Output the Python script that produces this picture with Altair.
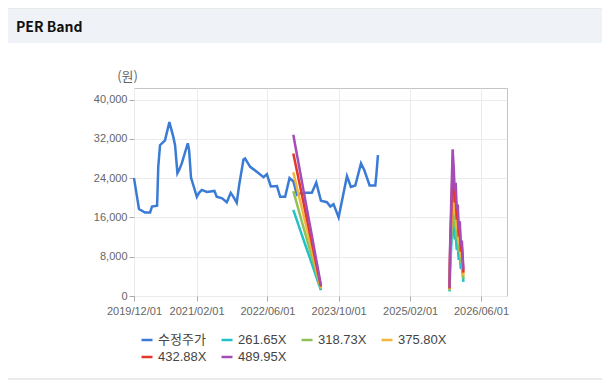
import altair as alt
import pandas as pd

# ---- data ----
price_dates = ["2019-12-01", "2020-01-04", "2020-02-14", "2020-03-20", "2020-04-02", "2020-05-07",
               "2020-05-15", "2020-05-27", "2020-06-30", "2020-07-30", "2020-08-26", "2020-09-07",
               "2020-09-23", "2020-10-04", "2020-10-23", "2020-12-03", "2020-12-12", "2020-12-25",
               "2021-02-03", "2021-02-18", "2021-03-09", "2021-04-12", "2021-06-03", "2021-06-19",
               "2021-07-26", "2021-08-27", "2021-09-23", "2021-10-09", "2021-11-03", "2021-11-19",
               "2021-12-19", "2021-12-30", "2022-01-13", "2022-02-03", "2022-03-20", "2022-05-05",
               "2022-05-28", "2022-06-24", "2022-08-05", "2022-08-27", "2022-09-30", "2022-10-30",
               "2022-11-26", "2022-12-20", "2023-01-11", "2023-02-14", "2023-04-01", "2023-05-01",
               "2023-06-02", "2023-07-13", "2023-08-05", "2023-08-27", "2023-10-01", "2023-11-27",
               "2023-12-24", "2024-01-23", "2024-03-02", "2024-03-25", "2024-04-30", "2024-06-08",
               "2024-06-15", "2024-06-26"]
price_values = [24000, 17700, 17000, 17000, 18200, 18400,
                26300, 30700, 31700, 35400, 32400, 30700,
                25000, 25600, 27000, 31100, 29700, 24100,
                20200, 21000, 21600, 21200, 21400, 20200,
                19900, 19100, 21000, 20300, 19000, 22500,
                27800, 28000, 27300, 26300, 25300, 24200,
                24800, 22300, 22400, 20200, 20200, 24000,
                23300, 20600, 20900, 21000, 21000, 23100,
                19400, 19100, 18200, 18700, 16000, 24400,
                22200, 22500, 27000, 25600, 22500, 22500,
                24600, 28700]

band_dates_1 = ["2022-11-25", "2022-12-23", "2023-01-20", "2023-02-17", "2023-03-17", "2023-04-14",
                "2023-05-12", "2023-06-02"]
band_dates_2 = ["2025-10-29", "2025-11-01", "2025-11-19", "2025-11-26", "2025-12-03", "2025-12-10",
                "2025-12-17", "2025-12-24", "2025-12-31", "2026-01-07", "2026-01-14", "2026-01-21",
                "2026-02-01"]

band_names = ["261.65X", "318.73X", "375.80X", "432.88X", "489.95X"]

band_1 = {
    "261.65X": [17531, 15097, 12664, 10230, 7850, 5416, 2983, 1177],
    "318.73X": [21355, 18391, 15427, 12462, 9562, 6598, 3634, 1434],
    "375.80X": [25179, 21684, 18189, 14694, 11274, 7779, 4284, 1691],
    "432.88X": [29003, 24977, 20951, 16926, 12986, 8961, 4935, 1948],
    "489.95X": [32827, 28270, 23714, 19157, 14699, 10142, 5585, 2205],
}
band_2 = {
    "261.65X": [916, 4971, 15961, 14129, 11513, 12298, 9419, 9943, 7326, 8111, 5495, 6018, 2878],
    "318.73X": [1116, 6056, 19443, 17211, 14024, 14980, 11474, 12112, 8924, 9881, 6693, 7331, 3506],
    "375.80X": [1315, 7140, 22924, 20293, 16535, 17663, 13529, 14280, 10522, 11650, 7892, 8643, 4134],
    "432.88X": [1515, 8225, 26406, 23376, 19047, 20345, 15584, 16449, 12121, 13419, 9090, 9956, 4762],
    "489.95X": [1715, 9309, 29887, 26457, 21558, 23028, 17638, 18618, 13719, 15188, 10289, 11269, 5389],
}

series_order = ["수정주가"] + band_names
series_colors = ["#3a7bd5", "#22c1c8", "#8fc157", "#f5b43c", "#e2372b", "#a44db4"]

x_ticks = [(2019, 12), (2021, 2), (2022, 6), (2023, 10), (2025, 2), (2026, 6)]
y_ticks = [0, 8000, 16000, 24000, 32000, 40000]

# ---- build table ----
rows = []
for d, v in zip(price_dates, price_values):
    rows.append({"date": d, "value": v, "series": "수정주가", "seg": "price"})
for name in band_names:
    for d, v in zip(band_dates_1, band_1[name]):
        rows.append({"date": d, "value": v, "series": name, "seg": name + "_a"})
for name in band_names:
    for d, v in zip(band_dates_2, band_2[name]):
        rows.append({"date": d, "value": v, "series": name, "seg": name + "_b"})
df = pd.DataFrame(rows)

FONT = "Liberation Sans, Noto Sans CJK KR, sans-serif"
KFONT = "Noto Sans CJK KR, sans-serif"

x_scale = alt.Scale(
    type="utc",
    domain=[alt.DateTime(year=2019, month=12, date=1, utc=True),
            alt.DateTime(year=2026, month=11, date=26, utc=True)],
)
x_axis = alt.Axis(
    title=None,
    values=[alt.DateTime(year=y, month=m, date=1, utc=True) for y, m in x_ticks],
    labelExpr="utcFormat(datum.value, '%Y/%m/%d')",
    labelPadding=4, labelOverlap=False, labelFlush=False, labelBound=False,
)
y_scale = alt.Scale(domain=[0, 42350], nice=False)
y_axis = alt.Axis(
    title="(원)", values=y_ticks, format=",d",
    titleAngle=0, titleX=-7, titleY=-12, titleAlign="center", titleBaseline="middle",
    titleFont=KFONT, titleFontSize=13, titleFontWeight="normal", titleColor="#666666",
    labelPadding=2, labelOverlap=False,
)

lines = alt.Chart(df).mark_line(strokeWidth=2.5).encode(
    x=alt.X("date:T", scale=x_scale, axis=x_axis),
    y=alt.Y("value:Q", scale=y_scale, axis=y_axis),
    color=alt.Color(
        "series:N",
        scale=alt.Scale(domain=series_order, range=series_colors),
        legend=alt.Legend(
            title=None, orient="none", legendX=6, legendY=245, direction="horizontal",
            columns=4, columnPadding=9, rowPadding=3,
            symbolType="stroke", symbolSize=121, symbolStrokeWidth=2.5,
            labelFont=FONT, labelFontSize=13, labelColor="#444444", labelOffset=4,
        ),
    ),
    detail="seg:N",
)

deco = pd.DataFrame({"k": [0]})
header = alt.Chart(deco).mark_rect(color="#eff2f7").encode(
    x=alt.value(-126), x2=alt.value(468), y=alt.value(-79), y2=alt.value(-45)
)
top_line = alt.Chart(deco).mark_rule(color="#d6d6d6", strokeWidth=1).encode(
    x=alt.value(-126), x2=alt.value(468), y=alt.value(-80)
)
bottom_line = alt.Chart(deco).mark_rule(color="#d6d6d6", strokeWidth=1).encode(
    x=alt.value(-126), x2=alt.value(468), y=alt.value(291)
)
title = alt.Chart(deco).mark_text(
    text="PER Band", align="left", baseline="middle",
    font=KFONT, fontSize=14, fontWeight="bold", color="#111111",
).encode(x=alt.value(-118), y=alt.value(-60))

chart = alt.layer(header, top_line, bottom_line, title, lines).properties(
    width=373, height=208,
    autosize=alt.AutoSizeParams(type="none"),
    padding={"left": 126, "top": 80, "right": 95, "bottom": 84},
).configure_view(
    stroke="#c4c4c4", strokeWidth=1
).configure_axis(
    domain=False, ticks=True, tickColor="#aaaaaa", tickSize=5,
    grid=True, gridColor="#ebebeb",
    labelFont=FONT, labelFontSize=11, labelColor="#666666",
)

chart.save("out.html", embed_options={"renderer": "svg", "actions": False})
